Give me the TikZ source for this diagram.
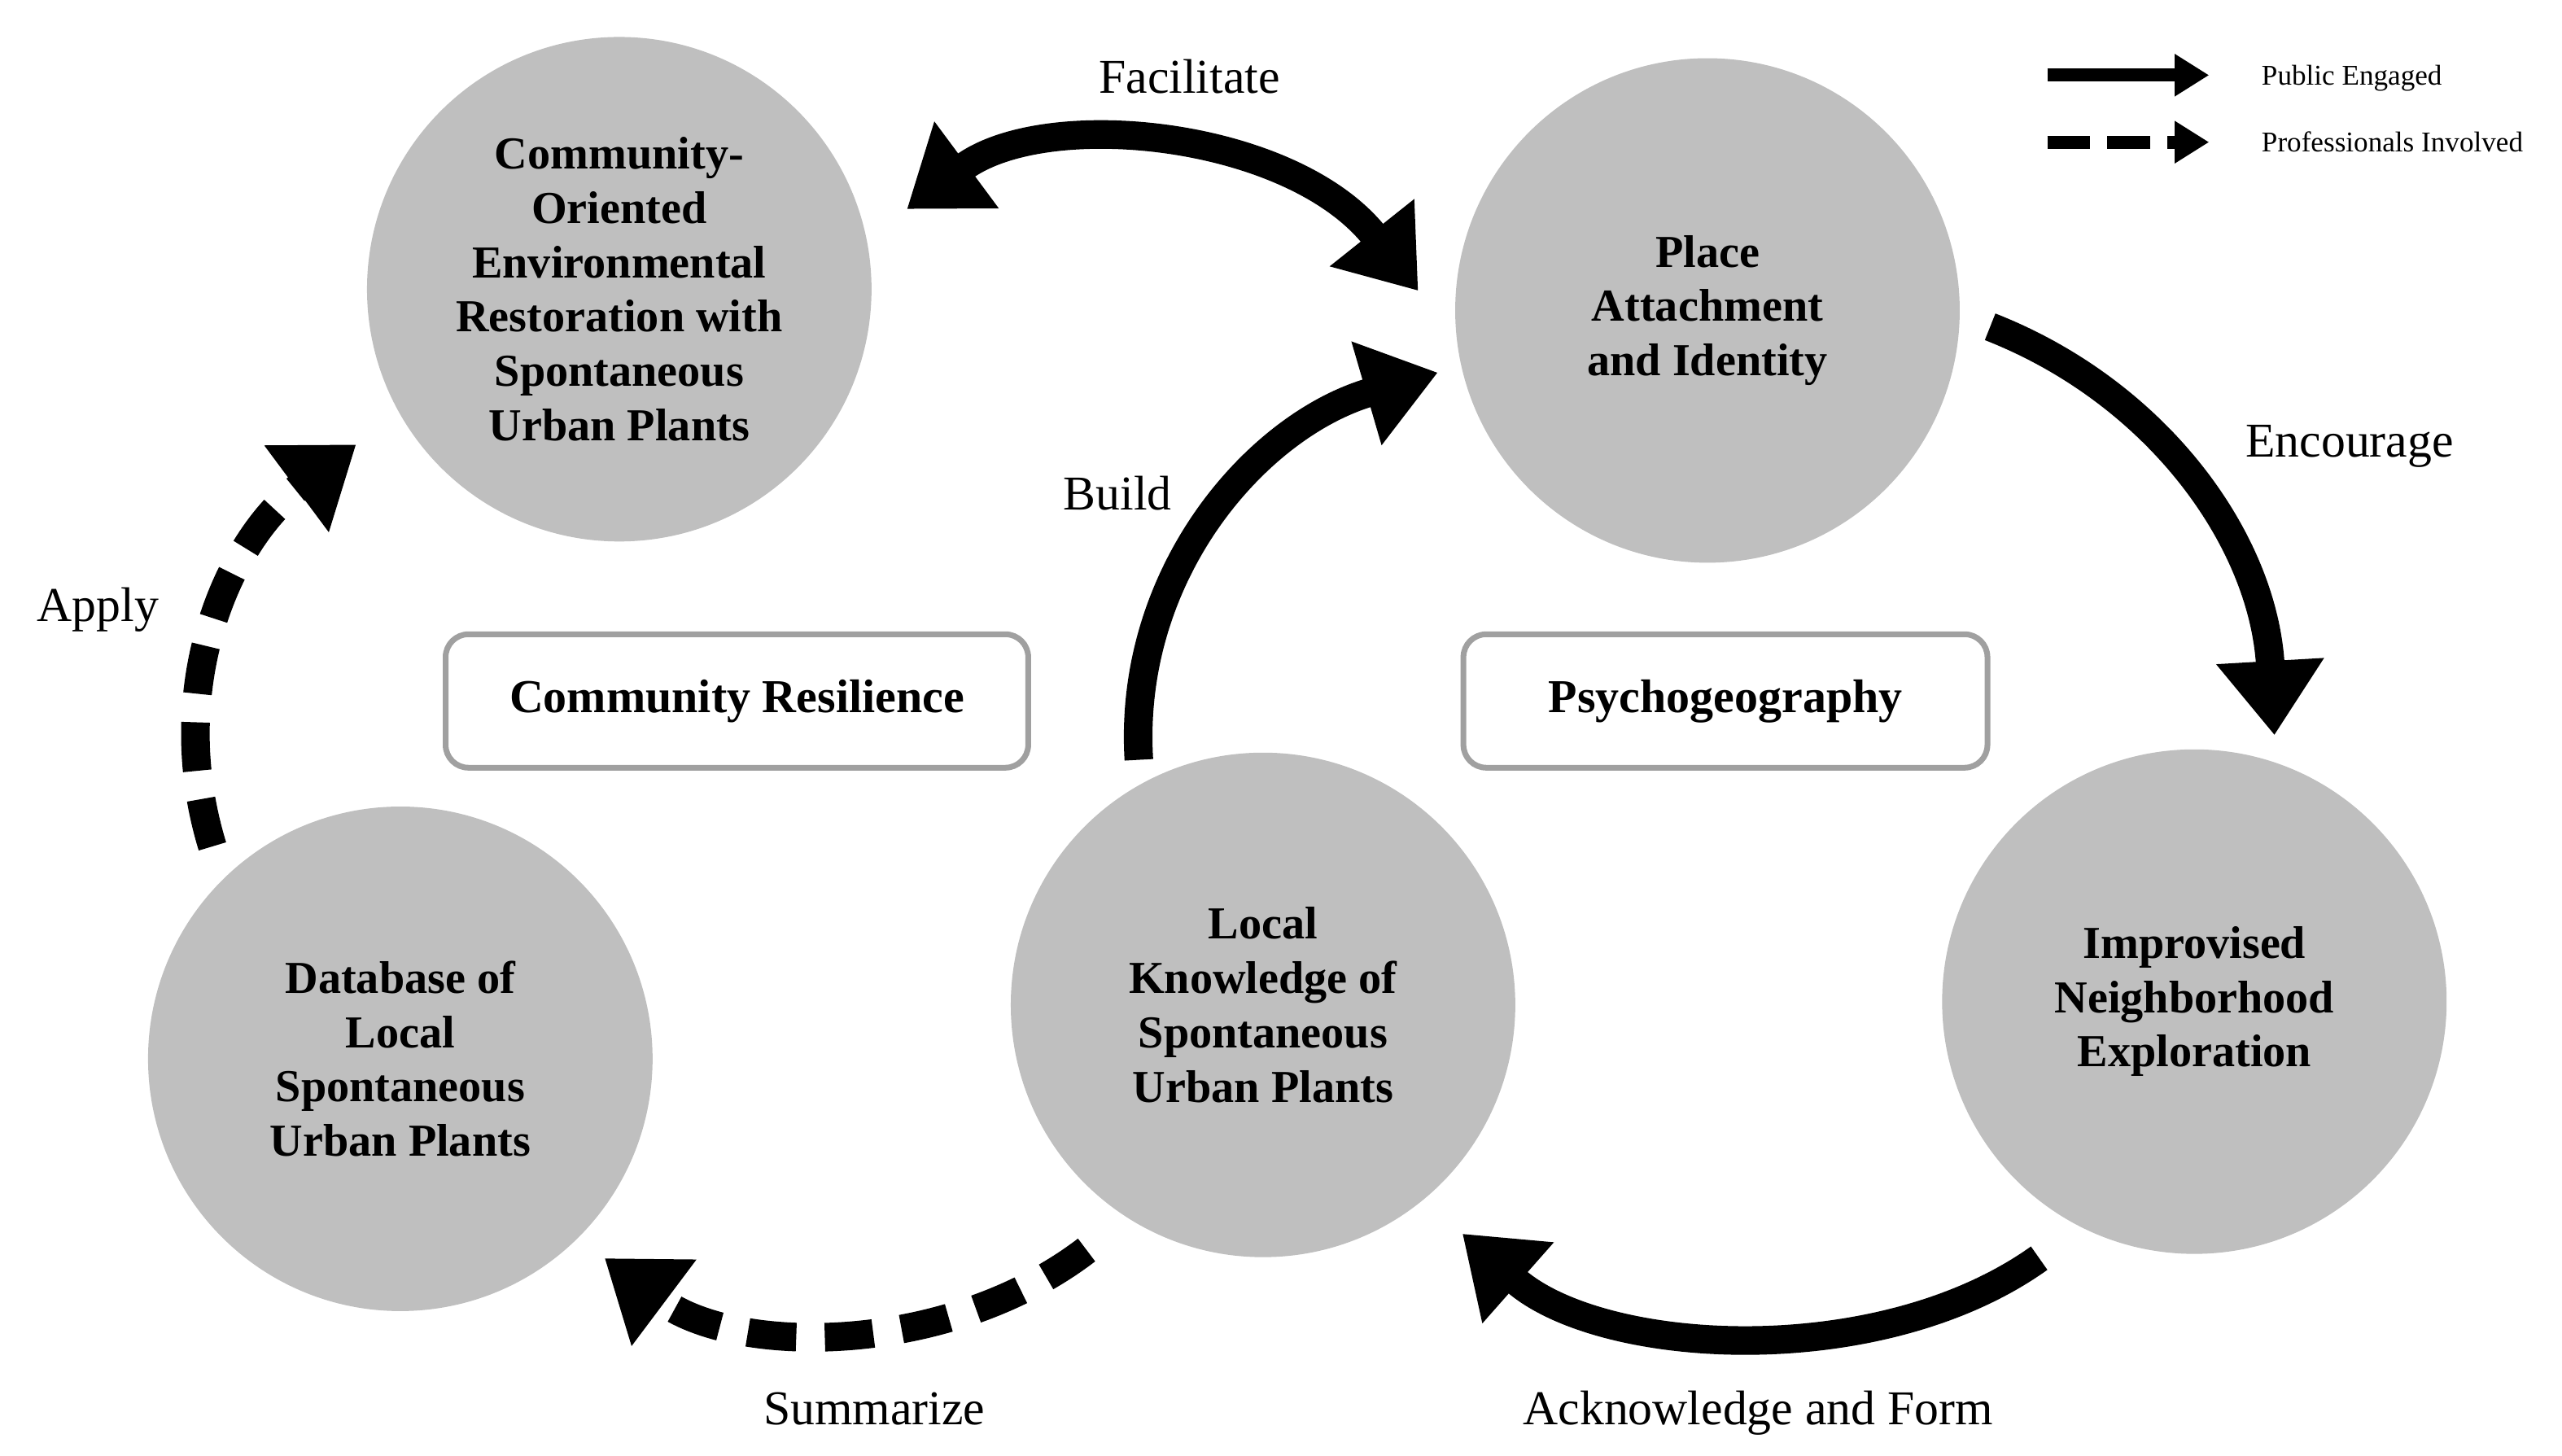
\documentclass[tikz,border=0pt]{standalone}
\usepackage{fontspec}
\setmainfont{Liberation Serif}
\usetikzlibrary{arrows.meta}
\begin{document}
\begin{tikzpicture}[x=0.020077cm,y=-0.020077cm,
  circ/.style={circle,fill={rgb,255:red,191;green,191;blue,191},minimum size=6.2cm,inner sep=0pt,align=center,font=\fontsize{16}{19}\selectfont\bfseries},
  box/.style={draw={rgb,255:red,160;green,160;blue,160},line width=2pt,rounded corners=8pt,fill=white,minimum width=7.16cm,minimum height=1.64cm,font=\fontsize{16.5}{20}\selectfont\bfseries},
  big/.style={line width=10pt,-{Triangle[length=26pt,width=36pt]}},
  dbig/.style={big,dash pattern=on 17pt off 10pt},
  lab/.style={font=\fontsize{17}{21}\selectfont},
  leg/.style={font=\fontsize{10}{12}\selectfont,anchor=west}]
\useasboundingbox (0,0) rectangle (1568,891);
\node[circ] (c1) at (379,177) {Community-\\Oriented\\Environmental\\Restoration with\\Spontaneous\\Urban Plants};
\node[circ] (c2) at (1045,190) {Place\\Attachment\\and Identity};
\node[circ] (c3) at (1343,613) {Improvised\\Neighborhood\\Exploration};
\node[circ] (c4) at (773,615) {Local\\Knowledge of\\Spontaneous\\Urban Plants};
\node[circ] (c5) at (245,648) {Database of\\Local\\Spontaneous\\Urban Plants};
\node[box] (b1) at (451,429) {Community Resilience};
\node[box,minimum width=6.44cm] (b2) at (1056,429) {Psychogeography};
\coordinate (f1) at (555,128); \coordinate (f2) at (868,178);
\coordinate (e1) at (1218,200); \coordinate (e2) at (1392,450);
\coordinate (a1) at (1248,770); \coordinate (a2) at (895,755);
\coordinate (s1) at (665,765); \coordinate (s2) at (370,770);
\coordinate (p1) at (130,518); \coordinate (p2) at (218,272);
\coordinate (u1) at (697,465); \coordinate (u2) at (880,228);
\draw[big,{Triangle[length=26pt,width=36pt]}-{Triangle[length=26pt,width=36pt]}] (f1) .. controls (640,65) and (790,80) .. (f2);
\draw[big] (e1) .. controls (1320,240) and (1385,330) .. (e2);
\draw[big] (a1) .. controls (1150,840) and (980,830) .. (a2);
\draw[dbig] (s1) .. controls (580,830) and (450,830) .. (s2);
\draw[dbig] (p1) .. controls (100,420) and (140,330) .. (p2);
\draw[big] (u1) .. controls (690,350) and (770,260) .. (u2);
\coordinate (l1) at (1253,46); \coordinate (l2) at (1352,46);
\coordinate (l3) at (1253,87); \coordinate (l4) at (1352,87);
\draw[line width=4.5pt,-{Triangle[length=12pt,width=14pt]}] (l1) -- (l2);
\draw[line width=4.5pt,dash pattern=on 15pt off 6pt,-{Triangle[length=12pt,width=14pt]}] (l3) -- (l4);
\node[leg] (t1) at (1378,48) {Public Engaged};
\node[leg] (t2) at (1378,87) {Professionals Involved};
\node[lab] (n1) at (728,47) {Facilitate};
\node[lab] (n2) at (1438,273) {Encourage};
\node[lab] (n3) at (684,302) {Build};
\node[lab] (n4) at (60,373) {Apply};
\node[lab] (n5) at (535,862) {Summarize};
\node[lab] (n6) at (1076,865) {Acknowledge and Form};
\end{tikzpicture}
\end{document}
